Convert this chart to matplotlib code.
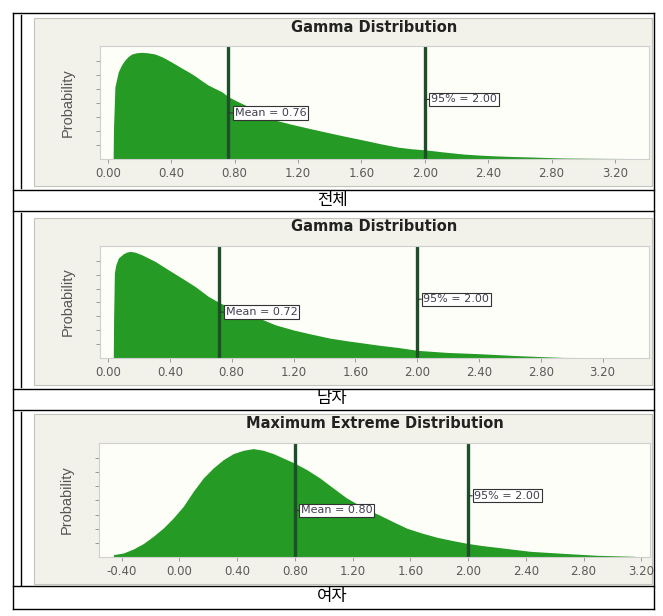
"""Three fitted-distribution panels (전체 / 남자 / 여자) laid out in a bordered table."""
import matplotlib.pyplot as plt
from matplotlib.lines import Line2D
from matplotlib.patches import Rectangle

W, H = 663, 616

# 전체: Gamma fit, relative probability height
ALL_X = [0.033, 0.035, 0.044, 0.065, 0.085, 0.107, 0.128, 0.150, 0.180, 0.213,
         0.250, 0.297, 0.340, 0.379, 0.420, 0.466, 0.510, 0.550, 0.590, 0.632,
         0.675, 0.718, 0.760, 0.810, 0.865, 0.960, 1.055, 1.150, 1.280, 1.402,
         1.500, 1.611, 1.720, 1.826, 1.920, 2.009, 2.120, 2.243, 2.350, 2.457,
         2.560, 2.666, 2.874, 3.100, 3.329, 3.330]
ALL_P = [0.0, 0.26, 0.637, 0.77, 0.83, 0.876, 0.907, 0.929, 0.940, 0.944,
         0.940, 0.929, 0.905, 0.876, 0.843, 0.805, 0.770, 0.735, 0.695, 0.655,
         0.625, 0.596, 0.551, 0.515, 0.478, 0.410, 0.345, 0.310, 0.268, 0.230,
         0.200, 0.168, 0.135, 0.106, 0.090, 0.080, 0.062, 0.044, 0.034, 0.027,
         0.022, 0.018, 0.009, 0.006, 0.004, 0.0]
ALL_MEAN, ALL_P95 = 0.76, 2.00

# 남자: Gamma fit
MALE_X = [0.034, 0.036, 0.041, 0.050, 0.067, 0.099, 0.120, 0.142, 0.175, 0.218,
          0.304, 0.390, 0.477, 0.563, 0.649, 0.725, 0.822, 0.951, 1.081, 1.200,
          1.310, 1.437, 1.550, 1.650, 1.760, 1.871, 2.005, 2.192, 2.408, 2.621,
          2.775, 2.945, 3.411, 3.412]
MALE_P = [0.0, 0.34, 0.759, 0.83, 0.893, 0.931, 0.945, 0.952, 0.945, 0.922,
          0.863, 0.788, 0.714, 0.639, 0.55, 0.491, 0.431, 0.371, 0.297, 0.250,
          0.215, 0.177, 0.153, 0.134, 0.113, 0.095, 0.068, 0.05, 0.038, 0.023,
          0.014, 0.005, 0.003, 0.0]
MALE_MEAN, MALE_P95 = 0.72, 2.00

# 여자: Maximum Extreme fit
FEMALE_X = [-0.457, -0.456, -0.388, -0.319, -0.249, -0.180, -0.111, -0.042, 0.028,
            0.097, 0.166, 0.235, 0.305, 0.374, 0.443, 0.512, 0.582, 0.651, 0.720,
            0.796, 0.882, 0.974, 1.066, 1.159, 1.272, 1.390, 1.480, 1.577, 1.680,
            1.785, 1.890, 1.992, 2.100, 2.200, 2.429, 2.657, 2.893, 3.156, 3.157]
FEMALE_P = [0.0, 0.021, 0.035, 0.070, 0.118, 0.182, 0.254, 0.342, 0.445,
            0.576, 0.693, 0.781, 0.854, 0.907, 0.936, 0.951, 0.936, 0.907, 0.868,
            0.825, 0.767, 0.693, 0.605, 0.518, 0.436, 0.366, 0.310, 0.252, 0.210,
            0.173, 0.145, 0.120, 0.100, 0.085, 0.050, 0.032, 0.015, 0.006, 0.0]
FEMALE_MEAN, FEMALE_P95 = 0.80, 2.00

GAMMA_TICKS = [0.00, 0.40, 0.80, 1.20, 1.60, 2.00, 2.40, 2.80, 3.20]
EXTREME_TICKS = [-0.40, 0.00, 0.40, 0.80, 1.20, 1.60, 2.00, 2.40, 2.80, 3.20]

FILL = "#259a25"
VLINE = "#1f4f2a"
BEIGE = "#f3f2ea"
PLOT_BG = "#fdfef8"

plt.rcParams["axes.unicode_minus"] = False


def fx(px):
    return px / W


def fy(py):
    return 1 - py / H


def hline(fig, y, x0, x1, lw=1.0):
    fig.add_artist(Line2D([fx(x0), fx(x1)], [fy(y), fy(y)], color="black", lw=lw))


def vline(fig, x, y0, y1, lw=1.0):
    fig.add_artist(Line2D([fx(x), fx(x)], [fy(y0), fy(y1)], color="black", lw=lw))


def panel(fig, plot_px, box_px, title, title_y, x, p, mean, p95, xlim, xticks,
          mean_y, p95_y, caption, caption_y):
    bx0, by0, bx1, by1 = box_px
    fig.add_artist(Rectangle((fx(bx0), fy(by1)), fx(bx1 - bx0), (by1 - by0) / H,
                             facecolor=BEIGE, edgecolor="#c4c3bb", lw=0.8,
                             zorder=-1))
    l, t, r, b = plot_px
    ax = fig.add_axes([fx(l), fy(b), fx(r - l), (b - t) / H])
    ax.set_facecolor(PLOT_BG)
    ax.fill_between(x, 0, p, color=FILL, lw=0)
    ax.set_xlim(*xlim)
    ax.set_ylim(0, 1)
    ax.set_xticks(xticks)
    ax.set_xticklabels([f"{v:.2f}" for v in xticks])
    ax.set_yticks([0.124 * k for k in range(1, 8)])
    ax.set_yticklabels([])
    ax.tick_params(axis="both", direction="out", length=3, width=0.7,
                   color="#9a9a9a", labelsize=8.5, labelcolor="#5a5a5a", pad=3)
    for s in ax.spines.values():
        s.set_color("#cfcfcf")
        s.set_linewidth(0.8)
    ax.set_ylabel("Probability", family="Liberation Sans", fontsize=10.5,
                  color="#555555")
    ax.yaxis.set_label_coords(-25 / (r - l), 0.5)

    for val, yy, label in [(mean, mean_y, f"Mean = {mean:.2f}"),
                           (p95, p95_y, f"95% = {p95:.2f}")]:
        ax.axvline(val, color=VLINE, lw=2.4)
        ax.annotate(label, xy=(val, yy), xycoords=("data", "axes fraction"),
                    xytext=(4.5, 0), textcoords="offset points", ha="left",
                    va="center", fontsize=8, color="#3f3f50",
                    bbox=dict(boxstyle="square,pad=0.15", fc="white",
                              ec="#333333", lw=0.8),
                    arrowprops=dict(arrowstyle="-", color="#333333", lw=0.8,
                                    shrinkA=0, shrinkB=0))

    fig.text(fx((l + r) / 2), fy(title_y), title, ha="center", va="center",
             fontsize=10.5, fontweight="bold", color="#222222")
    fig.text(fx(332), fy(caption_y), caption, ha="center", va="center",
             fontsize=12, family=["Noto Sans CJK KR", "DejaVu Sans"], color="black")


fig = plt.figure(figsize=(W / 100, H / 100), dpi=100)
fig.patch.set_facecolor("white")

# table frame
for y in [13, 190, 211, 389, 410, 586, 609]:
    hline(fig, y, 13, 654)
vline(fig, 13, 13, 609)
vline(fig, 654, 13, 609)
for y0, y1 in [(15, 188), (213, 387), (412, 585)]:
    vline(fig, 21, y0, y1)

panel(fig, (100, 46, 649, 159), (34, 18, 652, 186), "Gamma Distribution", 27,
      ALL_X, ALL_P, ALL_MEAN, ALL_P95, (-0.05, 3.415), GAMMA_TICKS,
      0.407, 0.527, "전체", 200)
panel(fig, (100, 246, 649, 358), (34, 218, 652, 385), "Gamma Distribution", 227,
      MALE_X, MALE_P, MALE_MEAN, MALE_P95, (-0.052, 3.50), GAMMA_TICKS,
      0.41, 0.525, "남자", 399)
panel(fig, (99, 443, 650, 557), (34, 414, 652, 584), "Maximum Extreme Distribution",
      423, FEMALE_X, FEMALE_P, FEMALE_MEAN, FEMALE_P95, (-0.556, 3.26), EXTREME_TICKS,
      0.408, 0.537, "여자", 597)

fig.savefig("out.png", dpi=100)
